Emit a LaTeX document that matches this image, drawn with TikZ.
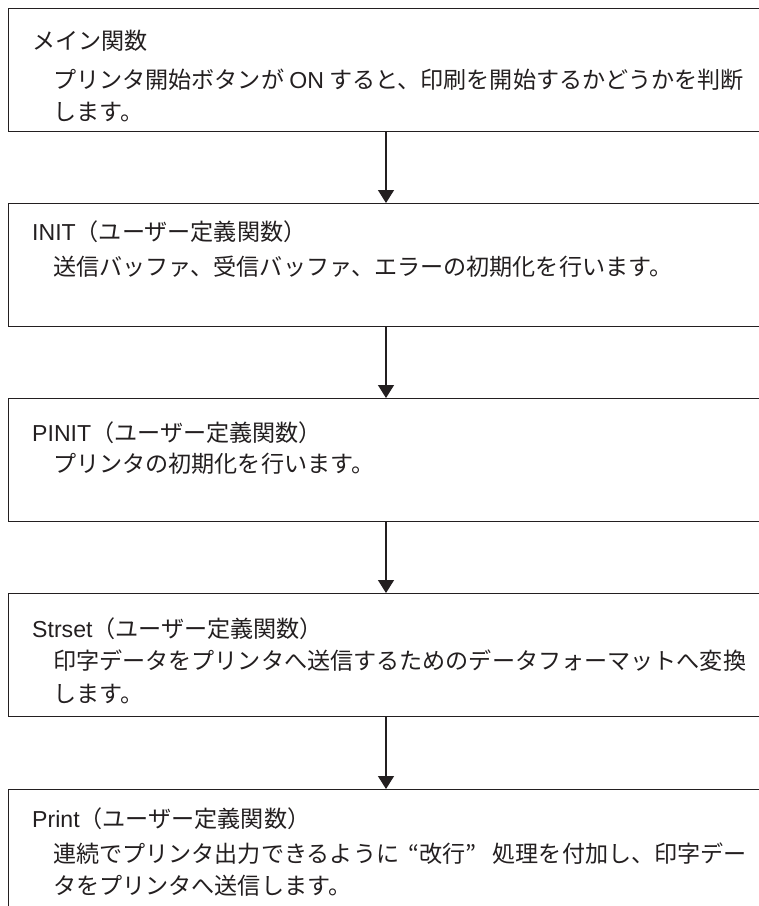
\documentclass[tikz,border=0pt]{standalone}
\usepackage{fontspec}
\setmainfont{Noto Sans CJK JP}
\newfontfamily\lat{Liberation Sans}
\usetikzlibrary{arrows.meta}
\definecolor{ink}{RGB}{35,31,32}
\begin{document}
\begin{tikzpicture}[x=1pt,y=-1pt,
  box/.style={draw=ink,line width=1.3pt,rectangle,inner sep=0pt,minimum width=762pt,anchor=north west},
  txt/.style={anchor=west,inner sep=0pt,text height=0.88em,text depth=0.12em,text=ink,font=\fontsize{23.1pt}{27pt}\selectfont},
  arr/.style={draw=ink,line width=1.3pt,-{Triangle[length=13pt,width=16pt]}}]
\useasboundingbox (0,0) rectangle (759,906);
\clip (0,0) rectangle (759,906);
\fill[white] (0,0) rectangle (759,906);
\node[box,minimum height=123pt] (b1) at (8,8) {};
\node[box,minimum height=123pt] (b2) at (8,203) {};
\node[box,minimum height=123pt] (b3) at (8,398) {};
\node[box,minimum height=123pt] (b4) at (8,593) {};
\node[box,minimum height=150pt] (b5) at (8,789) {};
\coordinate (ax) at (386,0);
\draw[arr] (b1.south -| ax) -- (b2.north -| ax);
\draw[arr] (b2.south -| ax) -- (b3.north -| ax);
\draw[arr] (b3.south -| ax) -- (b4.north -| ax);
\draw[arr] (b4.south -| ax) -- (b5.north -| ax);
% box 1
\node[txt] (t1a) at (32,45.5) {メイン関数};
\node[txt] (t1b) at (53,85) {プリンタ開始ボタンが {\lat ON} すると、印刷を開始するかどうかを判断};
\node[txt] (t1c) at (53,116.5) {します。};
% box 2
\node[txt] (t2a) at (32,236.5) {{\lat INIT}（ユーザー定義関数）};
\node[txt] (t2b) at (53,271.5) {送信バッファ、受信バッファ、エラーの初期化を行います。};
% box 3
\node[txt] (t3a) at (32,437.5) {{\lat PINIT}（ユーザー定義関数）};
\node[txt] (t3b) at (53,468.5) {プリンタの初期化を行います。};
% box 4
\node[txt] (t4a) at (32,633.5) {{\lat Strset}（ユーザー定義関数）};
\node[txt] (t4b) at (53,665.5) {印字データをプリンタへ送信するためのデータフォーマットへ変換};
\node[txt] (t4c) at (53,698.5) {します。};
% box 5
\node[txt] (t5a) at (32,823.5) {{\lat Print}（ユーザー定義関数）};
\node[txt] (t5b) at (53,858.5) {連続でプリンタ出力できるように\hspace{0.4em}“改行”\hspace{0.7em}処理を付加し、印字デー};
\node[txt] (t5c) at (53,890.5) {タをプリンタへ送信します。};
\end{tikzpicture}
\end{document}
